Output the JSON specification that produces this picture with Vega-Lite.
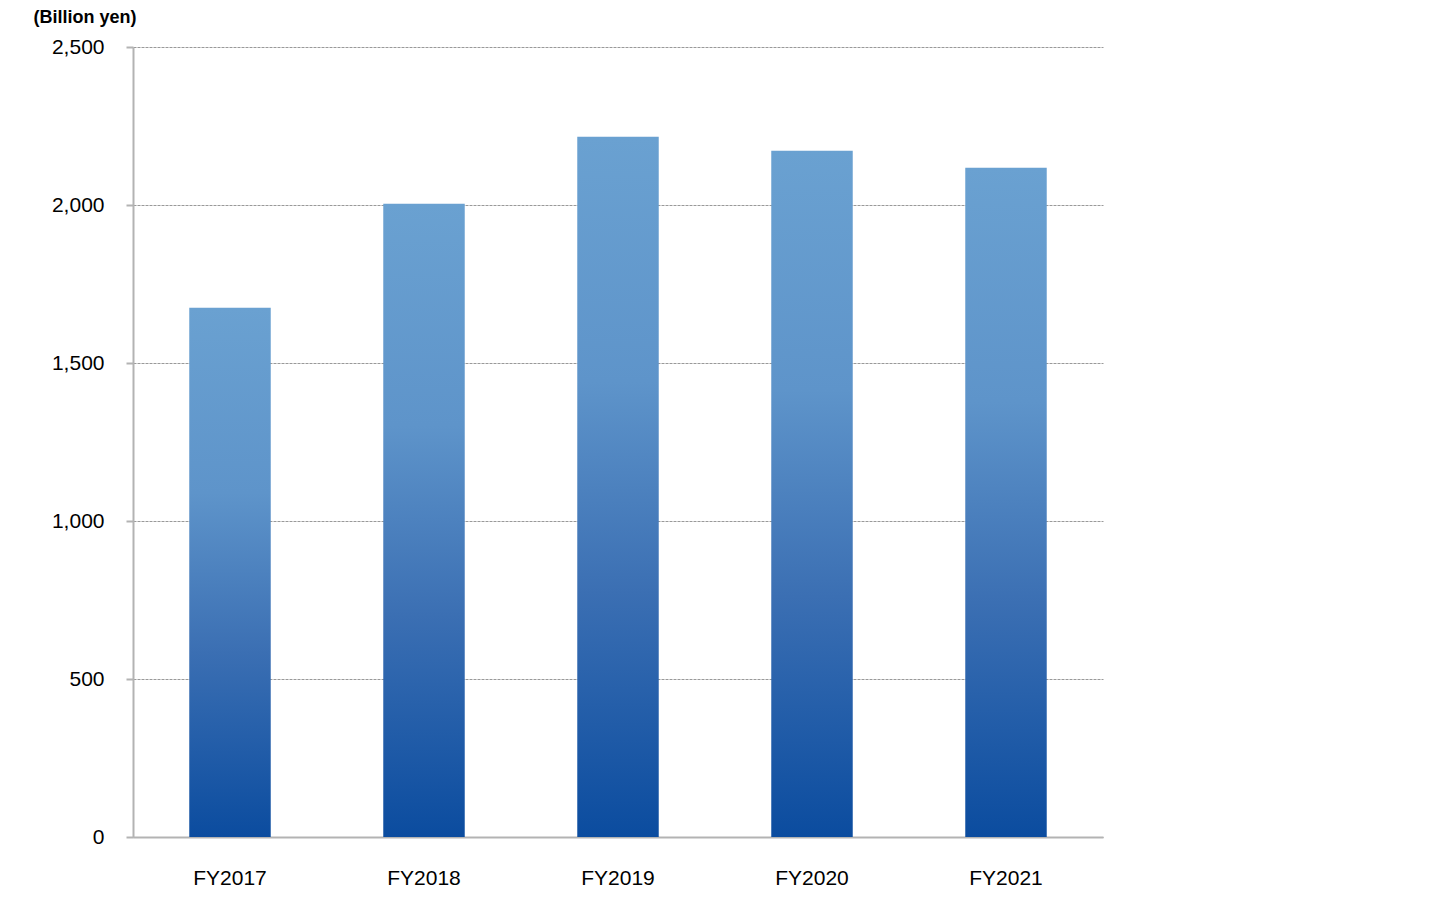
{
  "$schema": "https://vega.github.io/schema/vega-lite/v6.json",
  "description": "Annual values in billion yen, FY2017 to FY2021, gradient bars.",
  "autosize": {"type": "none"},
  "width": 970,
  "height": 790,
  "padding": {"left": 133, "top": 47, "right": 334, "bottom": 60},
  "background": "white",
  "config": {
    "view": {"stroke": null},
    "font": "Liberation Sans"
  },
  "data": {
    "values": [
      {"year": "FY2017", "value": 1675},
      {"year": "FY2018", "value": 2004},
      {"year": "FY2019", "value": 2216},
      {"year": "FY2020", "value": 2172},
      {"year": "FY2021", "value": 2118}
    ]
  },
  "mark": {
    "type": "bar",
    "color": {
      "gradient": "linear",
      "x1": 0, "y1": 0, "x2": 0, "y2": 1,
      "stops": [
        {"offset": 0, "color": "#6aa1d1"},
        {"offset": 0.35, "color": "#5e94ca"},
        {"offset": 0.65, "color": "#3b6fb3"},
        {"offset": 1, "color": "#0b4c9f"}
      ]
    }
  },
  "encoding": {
    "x": {
      "field": "year",
      "type": "nominal",
      "sort": null,
      "scale": {"paddingInner": 0.58, "paddingOuter": 0.29},
      "axis": {
        "title": null,
        "labelAngle": 0,
        "labelFontSize": 21,
        "labelColor": "#000000",
        "labelPadding": 30,
        "ticks": false,
        "domainColor": "#b3b3b3",
        "domainWidth": 2
      }
    },
    "y": {
      "field": "value",
      "type": "quantitative",
      "scale": {"domain": [0, 2500]},
      "axis": {
        "values": [0, 500, 1000, 1500, 2000, 2500],
        "format": ",.0f",
        "title": "(Billion yen)",
        "titleAngle": 0,
        "titleAlign": "left",
        "titleBaseline": "middle",
        "titleX": -100,
        "titleY": -30,
        "titleFontSize": 18,
        "titleFontWeight": "bold",
        "titleColor": "#000000",
        "labelFontSize": 21,
        "labelColor": "#000000",
        "labelPadding": 22,
        "tickSize": 7,
        "tickColor": "#b3b3b3",
        "tickWidth": 2,
        "domainColor": "#b3b3b3",
        "domainWidth": 2,
        "grid": true,
        "gridColor": "#999999",
        "gridDash": [3, 1],
        "gridWidth": 1
      }
    }
  }
}
